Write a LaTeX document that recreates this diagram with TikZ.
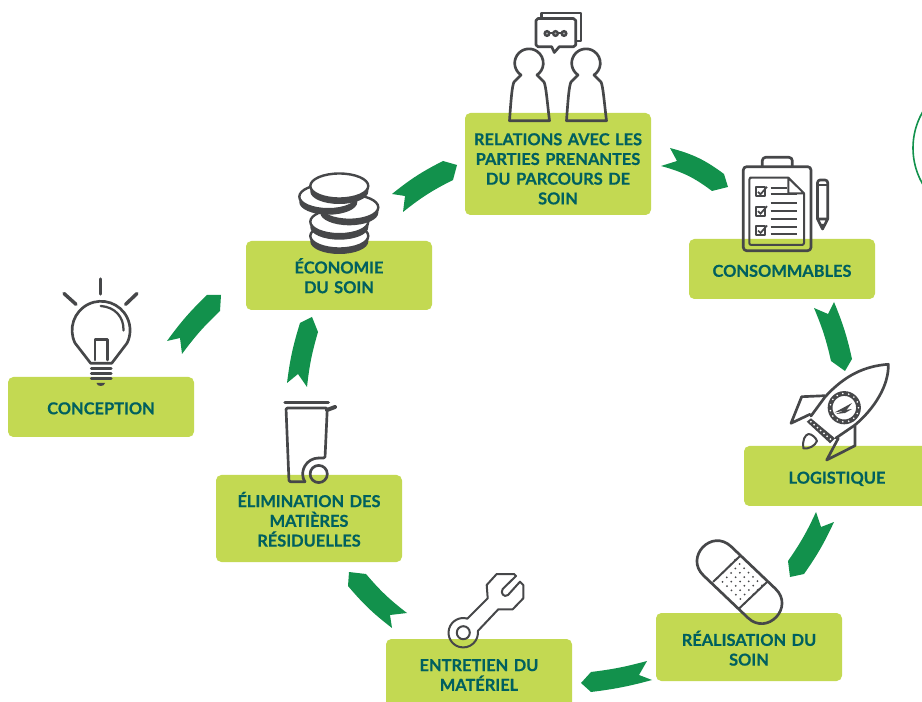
\documentclass[tikz,border=0pt]{standalone}
\usepackage{fontspec}
\setmainfont{Lato}[BoldFeatures={FakeBold=0.5},WordSpace=0.75]
\usetikzlibrary{calc}
\definecolor{boxgreen}{HTML}{C3D952}
\definecolor{ribgreen}{HTML}{12914C}
\definecolor{tealtxt}{HTML}{00605F}
\definecolor{icon}{HTML}{464749}
\tikzset{
  stagebox/.style={fill=boxgreen,rounded corners=4pt,minimum width=139.5pt,inner sep=0pt,text width=139.5pt,align=center,text=tealtxt,font=\fontsize{12.3}{14.8}\selectfont\bfseries},
  ribbon/.style={fill=ribgreen},
  ico/.style={draw=icon,line width=2pt,line join=round,line cap=round},
  icothin/.style={draw=icon,line width=1.5pt,line join=round,line cap=round},
}
\newcommand{\pad}[1]{\rule{0pt}{\dimexpr 8.8pt+#1*2\relax}}
\begin{document}
\begin{tikzpicture}[x=0.75pt,y=-0.75pt]
\useasboundingbox (0,0) rectangle (922,702);
\clip (0,0) rectangle (922,702);
% partial circle at right edge
\draw[ribgreen,line width=1.2pt] (985,148) circle[radius=72];
% stages
\node[stagebox,minimum height=45pt] (con) at (101,407) {\pad{1.1pt}CONCEPTION};
\node[stagebox,minimum height=51.75pt] (eco) at (339,275.5) {\pad{1.5pt}ÉCONOMIE\\DU SOIN};
\node[stagebox,minimum height=76.5pt] (rel) at (558,164) {\pad{3.75pt}RELATIONS AVEC LES\\PARTIES PRENANTES\\DU PARCOURS DE\\SOIN};
\node[stagebox,minimum height=45pt] (cons) at (782,269) {\pad{1.5pt}CONSOMMABLES};
\node[stagebox,minimum height=45pt] (log) at (837,476) {\pad{2.2pt}LOGISTIQUE};
\node[stagebox,minimum height=51pt] (rea) at (749,647) {\pad{2.2pt}RÉALISATION DU\\SOIN};
\node[stagebox,minimum height=54pt] (ent) at (479,675) {\pad{0pt}ENTRETIEN DU\\MATÉRIEL};
\node[stagebox,minimum height=65.25pt] (eli) at (309,518.5) {\pad{1.9pt}ÉLIMINATION DES\\MATIÈRES\\RÉSIDUELLES};
% ribbons
\fill[ribbon] ($(con)+(66,-66)$) -- ($(con)+(79,-69)$) -- ($(con)+(81,-53)$) to[bend left=5] ($(eco)+(-119,35.5)$) -- ($(eco)+(-118,19.5)$) -- ($(eco)+(-132,19.5)$) to[bend right=5] cycle;
\fill[ribbon] ($(eli)+(-22,-135.5)$) -- ($(eli)+(-11,-144.5)$) -- ($(eli)+(-2,-131.5)$) to[bend left=5] ($(eco)+(-21,56.5)$) -- ($(eco)+(-27,41.5)$) -- ($(eco)+(-39,47.5)$) to[bend right=5] cycle;
\fill[ribbon] ($(eco)+(53,-81.5)$) -- ($(eco)+(66,-79.5)$) -- ($(eco)+(64,-63.5)$) to[bend left=6] ($(rel)+(-105,16)$) -- ($(rel)+(-101,1)$) -- ($(rel)+(-115,-3)$) to[bend right=6] cycle;
\fill[ribbon] ($(rel)+(112,-16)$) -- ($(rel)+(119,-3)$) -- ($(rel)+(103,2)$) to[bend left=11] ($(cons)+(-70,-78)$) -- ($(cons)+(-54,-82)$) -- ($(cons)+(-58,-95)$) to[bend right=11] cycle;
\fill[ribbon] ($(cons)+(52,33)$) -- ($(cons)+(46,45)$) -- ($(cons)+(32,39)$) to[bend left=5] ($(log)+(-6,-115)$) -- ($(log)+(8,-105)$) -- ($(log)+(15,-117)$) to[bend right=5] cycle;
\fill[ribbon] ($(log)+(-3,46)$) -- ($(log)+(-16,51)$) -- ($(log)+(-21,36)$) to[bend left=5] ($(rea)+(39,-86)$) -- ($(rea)+(41,-70)$) -- ($(rea)+(55,-73)$) to[bend right=5] cycle;
\fill[ribbon] ($(rea)+(-97,33)$) -- ($(rea)+(-110,28)$) -- ($(rea)+(-102,14)$) to[bend left=4] ($(ent)+(112,-3)$) -- ($(ent)+(102,8)$) -- ($(ent)+(112,17)$) to[bend right=4] cycle;
\fill[ribbon] ($(ent)+(-87,-47)$) -- ($(ent)+(-89,-60)$) -- ($(ent)+(-72,-62)$) to[bend left=6] ($(eli)+(57,55.5)$) -- ($(eli)+(40,53.5)$) -- ($(eli)+(39,67.5)$) to[bend right=6] cycle;
% people and speech bubbles
\foreach \dx in {0,57}{
  \begin{scope}[xshift=\dx*0.75pt]
  \draw[ico] (509.5,120.7) .. controls (511,100) and (512,86) .. (514,82) -- (521,75) arc[start angle=124,end angle=416,radius=14.3] -- (544,82) .. controls (546,86) and (547,100) .. (549.5,120.7) -- cycle;
  \end{scope}
}
\draw[ico] (541.5,18) -- (541.5,13) -- (581,13) -- (581,41) -- (576,41);
\draw[ico] (538,18.5) -- (573.5,18.5) -- (575.7,20.5) -- (575.7,45) -- (573.5,46.7) -- (559.3,46.7) -- (554.3,52.5) -- (551.7,46.7) -- (538,46.7) -- (536,45) -- (536,20.5) -- cycle;
\draw[icon,line width=1.5pt] (547,33.5) -- (564,33.5);
\foreach \x in {547,555.5,564}{\fill[icon] (\x,33.5) circle[radius=3.6];\fill[icon!50] (\x,33.5) circle[radius=1.2];}
% clipboard
\draw[ico,rounded corners=2.5pt] (743.3,166.7) rectangle (811,250.7);
\draw[ico,rounded corners=2.5pt] (762.3,166.7) -- (762.3,157.3) -- (792.3,157.3) -- (792.3,166.7);
\draw[icothin,rounded corners=1.5pt] (788.3,177.7) -- (752,177.7) -- (749.3,177.7) -- (749.3,245) -- (804,245) -- (804,193.3);
\draw[icothin] (788.3,177.7) -- (804,193.3) -- (788.3,193.3) -- cycle;
\foreach \y in {187.3,206.7,226}{
  \draw[icothin] (755.7,\y) rectangle +(9.5,9);
  \draw[icon,line width=1.3pt] (758,\y+4.5) -- (760.5,\y+7) -- (767,\y-0.5);
}
\foreach \y/\e in {187.7/787,194.3/796.7,202.7/796.7,211.3/796.7,219/796.7,226.7/796.7,234.3/796.7}{\draw[icothin,line cap=butt] (770.7,\y) -- (\e,\y);}
\draw[ico,rounded corners=2pt] (817.5,219) -- (817.5,180) -- (827.7,180) -- (827.7,219);
\draw[ico,line cap=butt] (817.5,219) -- (822.6,229) -- (827.7,219) -- cycle;
\fill[icon] (820,224) -- (822.6,229.5) -- (825.2,224) -- cycle;
\draw[icothin] (818,185.5) -- (827,185.5);
% rocket
\draw[ico] (811,416) -- (825,397) .. controls (845,375) and (865,366) .. (888.3,364.3) .. controls (889,385) and (875,408) .. (855,425) -- (836,438);
\draw[ico] (825,395.7) -- (801.7,396.7) -- (791,423.3) -- (810,414.3);
\draw[ico] (855,425.7) -- (855,445.7) -- (826.7,460) -- (838.3,438.3);
\fill[icon] (806.7,421.7) -- (811,418.3) -- (835,438.3) -- (830,443.3) -- cycle;
\foreach \t in {0.08,0.22,0.36,0.5,0.64,0.78,0.92}{\fill[white] ($(809,420.2)!\t!(832.3,440.8)$) circle[radius=1];}
\draw[ico,line width=1.5pt] (803.5,448.5) .. controls (802,440) and (805,435) .. (808.5,434) .. controls (812,434) and (816,438) .. (817,441) .. controls (815,446) and (809,449) .. (803.5,448.5) -- cycle;
\draw[icon,line width=3.6pt] (844.3,407.7) circle[radius=14.2];
\foreach \a in {0,24,...,336}{\fill[white] ($(844.3,407.7)+(\a:14.2)$) circle[radius=0.9];}
\fill[icon] (834.5,412.5) -- (852,403) -- (846,410.5) -- cycle;
\fill[icon] (836,414) -- (845,410) -- (852,409) -- (845,413) -- cycle;
% bandage
\draw[ico] (731.1,546.5) -- (775.5,588.8) .. controls (794.8,607.2) and (767.2,636.2) .. (747.9,617.8) -- (703.5,575.5) .. controls (684.2,557.1) and (711.8,528.1) .. (731.1,546.5) -- cycle;
\draw[icothin] (740,556) -- (713.3,581.7);
\draw[icothin] (766.7,582.3) -- (739.3,608.3);
\foreach \i in {-3,-2,-1,0,1,2,3}{\foreach \j in {-2,-1,0,1,2}{
  \fill[icon] ($(740,581.5)+({(\i*0.72+\j*0.69)*6.2},{(\i*0.69-\j*0.72)*6.2})$) circle[radius=1];}}
% wrench
\draw[icothin] (467.3,618.7) -- (487.7,598.3) -- (486.7,585) -- (496.7,574) -- (514,574) -- (516,576) -- (502.7,589) .. controls (500,593) and (504,598) .. (508,595) -- (520,581.7) -- (523.3,585) -- (523.3,598.3) -- (512.7,609.3) -- (498.3,609.3) -- (477.9,630.9);
\draw[icothin] (467.3,618.6) arc[start angle=-74,end angle=-367,radius=14.7];
\draw[icothin] (463.3,632.7) circle[radius=6.5];
% bin
\draw[icon,line width=2.6pt,line cap=round] (285,402.3) -- (328.3,402.3);
\draw[ico,rounded corners=1pt] (305,481.7) -- (289,481.7) -- (286,408) -- (327.3,408) -- (325,458) -- (318.7,458);
\draw[icon,line width=3pt,line cap=round] (327,410) -- (335,407);
\draw[ico] (318.7,458) arc[start angle=270,end angle=165,radius=16];
\draw[ico] (303,478) -- (305,481.7);
\draw[ico] (318.7,474) circle[radius=8.6];
% coins
\foreach \cx/\cy in {339.3/236,339.3/221.7,349.3/207.3,328.3/196.7,339.3/186}{
  \fill[icon] (\cx-29,\cy) -- (\cx-29,\cy+5.5) arc[start angle=180,end angle=0,x radius=29,y radius=12.5] -- (\cx+29,\cy) -- cycle;
  \filldraw[draw=icon,fill=white,line width=1.8pt] (\cx,\cy) circle[x radius=29,y radius=12.5];
}
% bulb
\draw[icon,line width=2.6pt,line cap=round] (100.7,279) -- (100.7,294);
\draw[icon,line width=2.6pt,line cap=round] (64,293.5) -- (76,304.3);
\draw[icon,line width=2.6pt,line cap=round] (137,293.5) -- (125.7,304.3);
\draw[ico] (90.7,363.3) -- (75,343) arc[start angle=154,end angle=386,radius=29] -- (111.7,363.3) -- cycle;
\draw[ico,line width=1.7pt] (100.7,306) .. controls (115,307) and (124,317) .. (123.5,330.5);
\draw[ico] (95,360) -- (95,339.3) -- (107.3,339.3) -- (107.3,360);
\foreach \y in {368.3,373.3,378.3}{\draw[icon,line width=2.5pt,line cap=round] (91.5,\y) -- (111,\y);}
\fill[icon] (96.5,383) -- (105,383) .. controls (104.5,387) and (97,387) .. (96.5,383) -- cycle;
\end{tikzpicture}
\end{document}
